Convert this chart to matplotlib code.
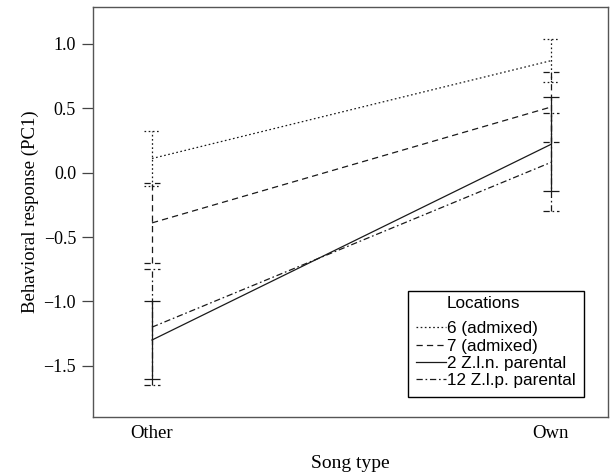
import matplotlib
matplotlib.use("Agg")
import matplotlib.pyplot as plt
import numpy as np

# values
song_types = ["Other", "Own"]
locations = ["6 (admixed)", "7 (admixed)", "2 Z.l.n. parental", "12 Z.l.p. parental"]
means_other = [0.11, -0.39, -1.30, -1.20]
means_own = [0.87, 0.51, 0.22, 0.08]
err_other = [0.21, 0.31, 0.30, 0.45]
err_own = [0.165, 0.27, 0.365, 0.38]
y_ticks = [-1.5, -1.0, -0.5, 0.0, 0.5, 1.0]

plt.rcParams["lines.scale_dashes"] = False
styles = [
    (0, (1.2, 1.8)),            # dotted
    (0, (4.5, 3.0)),            # dashed
    "-",                        # solid
    (0, (4.5, 2.0, 1.2, 2.0)),  # dash-dot
]
line_color = "#1a1a1a"
cap_half = 0.021
lw = 0.9
serif = "Liberation Serif"
sans = "Liberation Sans"

fig = plt.figure(figsize=(6.1, 4.73), dpi=100)
ax = fig.add_axes([0.152, 0.1184, 0.8447, 0.8662])

x = np.arange(len(song_types))
for i, name in enumerate(locations):
    m = np.array([means_other[i], means_own[i]])
    e = np.array([err_other[i], err_own[i]])
    ls = styles[i]
    ax.plot(x, m, linestyle=ls, color=line_color, lw=lw, label=name)
    ax.vlines(x, m - e, m + e, linestyles=[ls], colors=line_color, lw=lw)
    ax.hlines(np.concatenate([m - e, m + e]),
              np.concatenate([x, x]) - cap_half,
              np.concatenate([x, x]) + cap_half,
              linestyles=[ls], colors=line_color, lw=lw)

ax.set_xlim(-0.1486, 1.143)
ax.set_ylim(-1.898, 1.285)
ax.set_xticks(x)
ax.set_xticklabels(song_types, family=serif, fontsize=13.5)
ax.set_yticks(y_ticks)
ax.set_yticklabels([f"{v:.1f}".replace("-", "\u2212") for v in y_ticks],
                   family=serif, fontsize=13)
ax.tick_params(axis="x", length=0, pad=6)
ax.tick_params(axis="y", length=8, width=0.9, color="#444444", pad=4)
for s in ax.spines.values():
    s.set_color("#555555")
    s.set_linewidth(1.0)

ax.set_xlabel("Song type", family=serif, fontsize=14, labelpad=9)
ax.set_ylabel("Behavioral response (PC1)", family=serif, fontsize=13.5, labelpad=3)

# blank title reserves the space; the visible title is aligned with the labels
leg = ax.legend(title=" ", loc="lower left", bbox_to_anchor=(0.611, 0.049),
                borderaxespad=0, fancybox=False, framealpha=1, edgecolor="black",
                prop={"family": sans, "size": 12.3},
                title_fontproperties={"family": sans, "size": 14.5},
                handlelength=1.75, handletextpad=0.05, labelspacing=0.14,
                borderpad=0.5)
leg.get_frame().set_linewidth(1.0)

fig.canvas.draw()
frame_bb = leg.get_frame().get_window_extent()
label_bb = leg.get_texts()[0].get_window_extent()
tx, ty = fig.transFigure.inverted().transform((label_bb.x0, frame_bb.y1 - 12))
fig.text(tx, ty, "Locations", family=sans, fontsize=12.3, ha="left", va="center",
         zorder=10)

fig.savefig("out.png", dpi=100)
